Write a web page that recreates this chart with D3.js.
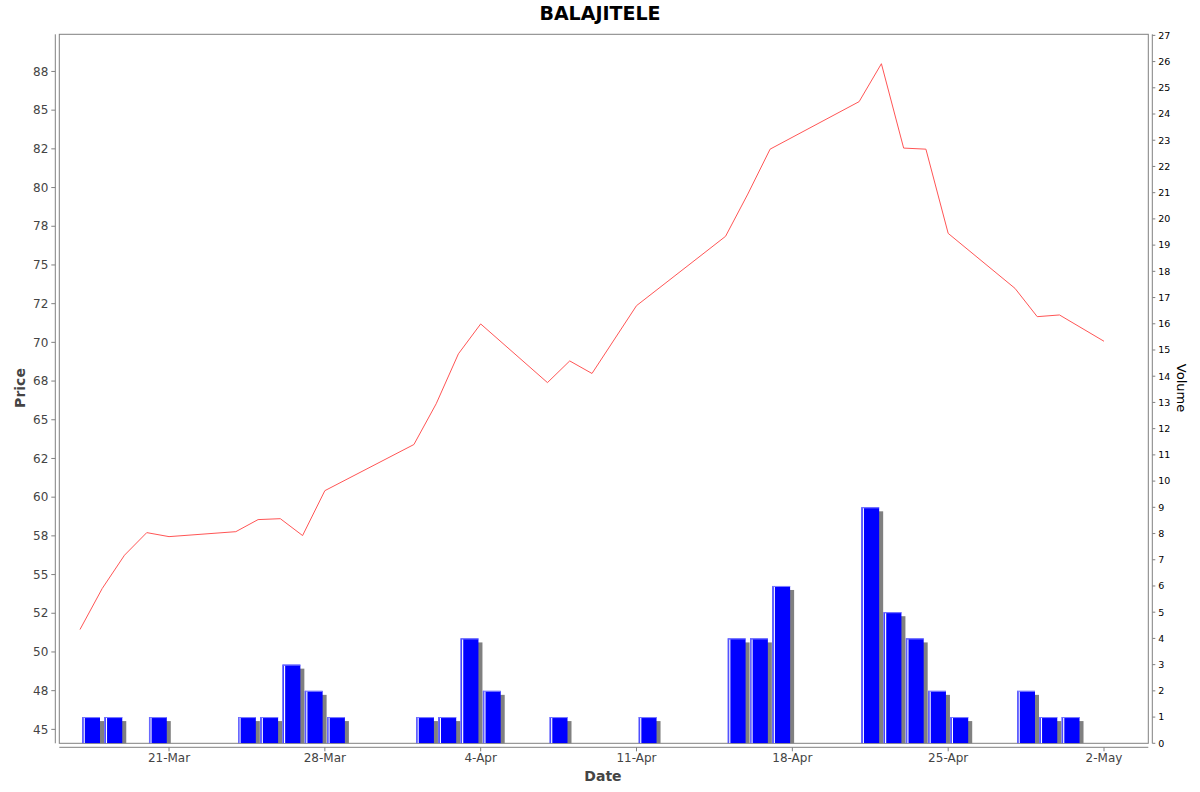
<!DOCTYPE html>
<html><head><meta charset="utf-8">
<script src="https://cdn.jsdelivr.net/npm/d3@7"></script>
<style>body{margin:0;background:#fff}svg{display:block}text{font-family:"DejaVu Sans",sans-serif}</style>
</head><body>
<svg id="c" width="1200" height="792"></svg>
<script>
const title = "BALAJITELE";
const dates = ["2025-03-17","2025-03-18","2025-03-19","2025-03-20","2025-03-21",
  "2025-03-24","2025-03-25","2025-03-26","2025-03-27","2025-03-28",
  "2025-04-01","2025-04-02","2025-04-03","2025-04-04",
  "2025-04-07","2025-04-08","2025-04-09","2025-04-11",
  "2025-04-15","2025-04-16","2025-04-17",
  "2025-04-21","2025-04-22","2025-04-23","2025-04-24","2025-04-25",
  "2025-04-28","2025-04-29","2025-04-30","2025-05-02"];
const prices = [51.45,54.1,56.25,57.71,57.45,
  57.77,58.55,58.61,57.52,60.42,
  63.4,66.03,69.26,71.19,
  67.4,68.8,67.99,72.37,
  76.85,79.58,82.48,
  85.55,88.0,82.55,82.48,77.04,
  73.49,71.66,71.77,70.07];
const volumes = [1,1,0,1,0,
  1,1,3,2,1,
  1,1,4,2,
  1,0,0,1,
  4,4,6,
  9,5,4,2,1,
  2,1,1,0];
const priceTicks = [45,47.5,50,52.5,55,57.5,60,62.5,65,67.5,70,72.5,75,77.5,80,82.5,85,87.5];
const priceTickLabels = ["45","48","50","52","55","58","60","62","65","68","70","72","75","78","80","82","85","88"];
const volumeTicks = d3.range(0,28);
const dateTicks = ["2025-03-21","2025-03-28","2025-04-04","2025-04-11","2025-04-18","2025-04-25","2025-05-02"];
const xDomain = ["2025-03-16T01:43:00","2025-05-03T23:45:00"];
const priceDomain = [44.1, 89.9];
const volumeDomain = [0, 27.04];

const parse = d3.utcParse("%Y-%m-%d");
const parseT = d3.utcParse("%Y-%m-%dT%H:%M:%S");
const fmt = d3.utcFormat("%-d-%b");
const data = dates.map((d,i)=>({date:parse(d), price:prices[i], vol:volumes[i]}));

const L=59.3, R=1148.3, T=34.3, B=743.3;
const svg = d3.select("#c");
const x = d3.scaleUtc().domain(xDomain.map(parseT)).range([L,R]);
const yP = d3.scaleLinear().domain(priceDomain).range([B,T]);
const yV = d3.scaleLinear().domain(volumeDomain).range([B,T]);

svg.append("defs").append("clipPath").attr("id","clip")
  .append("rect").attr("x",L).attr("y",T).attr("width",R-L).attr("height",B-T);

// plot border
svg.append("rect").attr("x",L).attr("y",T).attr("width",R-L).attr("height",B-T)
  .attr("fill","#fff").attr("stroke","#808080").attr("stroke-width",1);

// bars
const g = svg.append("g").attr("clip-path","url(#clip)");
const bars = data.filter(d=>d.vol>0);
const dayMs = 86400000;
bars.forEach(d=>{
  const x0 = x(new Date(+d.date + 0.1*dayMs)), x1 = x(new Date(+d.date + 0.9*dayMs));
  const yt = yV(d.vol), yb = yV(0);
  g.append("rect").attr("x",x0+4).attr("y",yt+4).attr("width",x1-x0).attr("height",yb-yt)
    .attr("fill","#808080");
  g.append("rect").attr("x",x0).attr("y",yt).attr("width",x1-x0).attr("height",yb-yt)
    .attr("fill","#0000ff");
  g.append("line").attr("x1",x0).attr("x2",x1).attr("y1",yt+0.5).attr("y2",yt+0.5)
    .attr("stroke","#8080ff").attr("stroke-width",1);
  g.append("line").attr("x1",x0+0.5).attr("x2",x0+0.5).attr("y1",yt).attr("y2",yb)
    .attr("stroke","#6a6aff").attr("stroke-width",1);
  g.append("line").attr("x1",x0+2).attr("x2",x0+2).attr("y1",yt+1).attr("y2",yb)
    .attr("stroke","#ffffff").attr("stroke-width",1.2);
});

// price line
g.append("path").datum(data)
  .attr("d", d3.line().x(d=>x(d.date)).y(d=>yP(d.price)))
  .attr("fill","none").attr("stroke","#ff5555").attr("stroke-width",1);

// left axis
const la = svg.append("g").attr("transform","translate(55.3,0)");
la.append("line").attr("x1",0).attr("x2",0).attr("y1",T).attr("y2",B).attr("stroke","#808080");
priceTicks.forEach((v,i)=>{
  la.append("line").attr("x1",-4).attr("x2",0).attr("y1",yP(v)).attr("y2",yP(v)).attr("stroke","#808080");
  la.append("text").attr("x",-7).attr("y",yP(v)).attr("dy","0.35em").attr("text-anchor","end")
    .attr("font-size",12).attr("fill","#444").text(priceTickLabels[i]);
});
svg.append("text").attr("transform","translate(25,388) rotate(-90)").attr("text-anchor","middle")
  .attr("font-size",14).attr("fill","#444").attr("font-weight","bold").text("Price");

// right axis
const ra = svg.append("g").attr("transform","translate(1152.3,0)");
ra.append("line").attr("x1",0).attr("x2",0).attr("y1",T).attr("y2",B).attr("stroke","#808080");
volumeTicks.forEach(v=>{
  ra.append("line").attr("x1",0).attr("x2",3).attr("y1",yV(v)).attr("y2",yV(v)).attr("stroke","#808080");
  ra.append("text").attr("x",6).attr("y",yV(v)).attr("dy","0.35em").attr("text-anchor","start")
    .attr("font-size",9.5).attr("fill","#000").text(v);
});
svg.append("text").attr("transform","translate(1177,388) rotate(90)").attr("text-anchor","middle")
  .attr("font-size",13).attr("fill","#000").text("Volume");

// bottom axis
const ba = svg.append("g").attr("transform","translate(0,747.3)");
ba.append("line").attr("x1",L).attr("x2",R).attr("y1",0).attr("y2",0).attr("stroke","#808080");
dateTicks.forEach(s=>{
  const d = parse(s);
  ba.append("line").attr("x1",x(d)).attr("x2",x(d)).attr("y1",0).attr("y2",4).attr("stroke","#808080");
  ba.append("text").attr("x",x(d)).attr("y",15).attr("text-anchor","middle")
    .attr("font-size",12).attr("fill","#444").text(fmt(d));
});
svg.append("text").attr("x",603).attr("y",781).attr("text-anchor","middle")
  .attr("font-size",14).attr("fill","#444").attr("font-weight","bold").text("Date");

// title
svg.append("text").attr("x",600).attr("y",20).attr("text-anchor","middle")
  .attr("font-size",19).attr("font-weight","bold").attr("fill","#000").text(title);
</script>
</body></html>
